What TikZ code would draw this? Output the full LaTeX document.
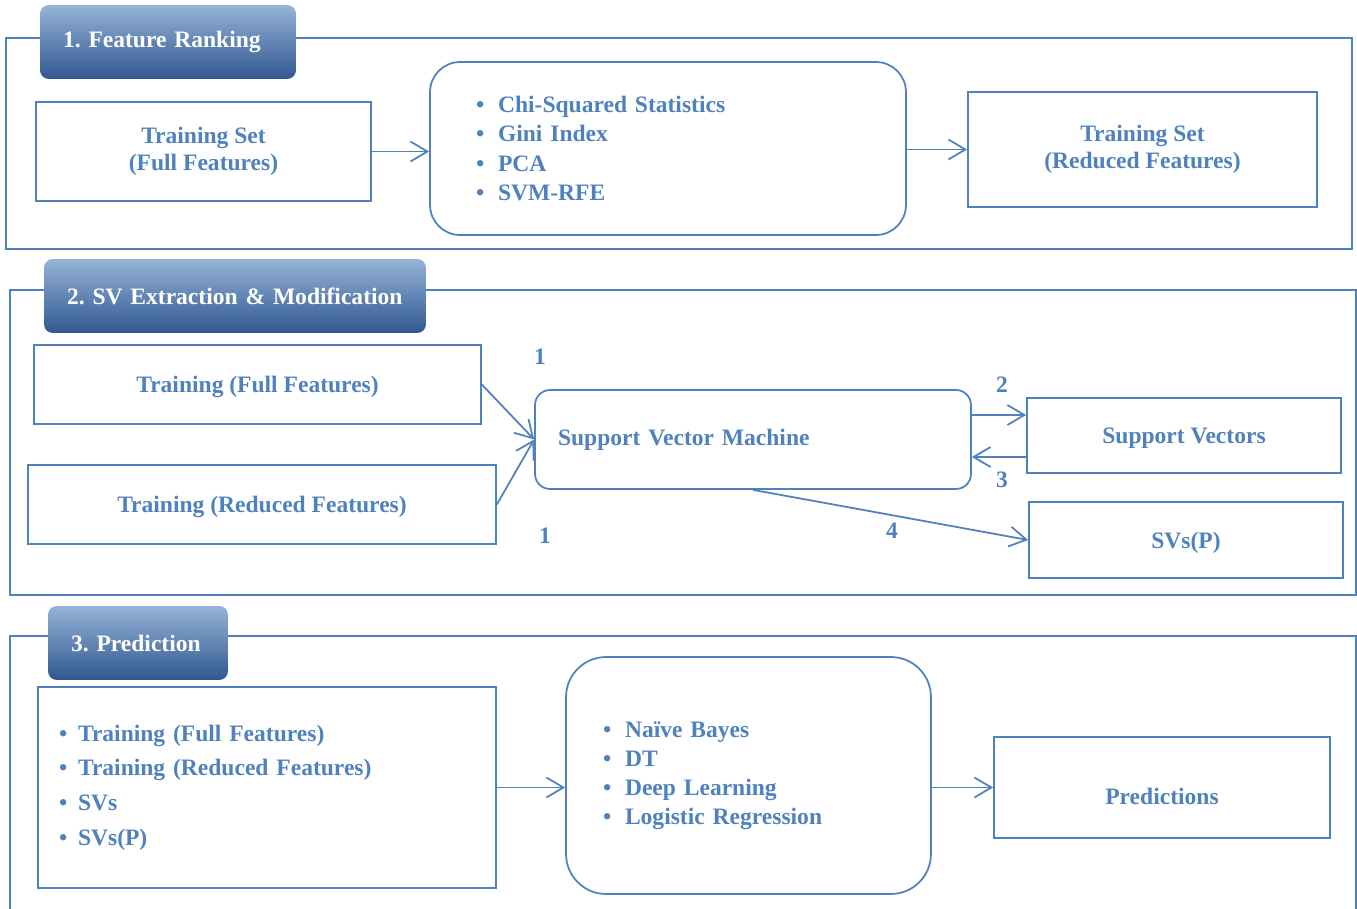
\documentclass[tikz,border=0pt]{standalone}
\usepackage{fontspec}
\setmainfont{Liberation Serif}
\frenchspacing
\usepackage{tikz}
\usetikzlibrary{arrows.meta,positioning,calc}
\definecolor{flowblue}{HTML}{4F81BD}
\definecolor{tabtop}{HTML}{95B3D7}
\definecolor{tabmid}{HTML}{4F81BD}
\definecolor{tabbot}{HTML}{30578F}
\newcommand{\itm}[2][0.44cm]{\makebox[#1][l]{\textbullet}#2}
\tikzset{
  stagebox/.style={draw=flowblue, line width=1pt},
  tabnode/.style={rounded corners=5pt, top color=tabtop, middle color=tabmid, bottom color=tabbot, draw=none, text=white, align=left, inner xsep=0.46cm, minimum height=1.48cm, font=\fontsize{13.4}{15}\selectfont\bfseries},
  databox/.style={draw=flowblue, line width=1pt, align=center, text=flowblue, font=\fontsize{13.4}{15.5}\selectfont\bfseries},
  methodbox/.style={draw=flowblue, line width=1pt, rounded corners=0.6cm, align=left, text=flowblue, font=\fontsize{13.4}{16.6}\selectfont\bfseries},
  numlabel/.style={text=flowblue, font=\fontsize{13.4}{15}\selectfont\bfseries},
  flowarrow/.style={-{Straight Barb[length=3.4mm, width=4mm]}, line width=1pt, draw=flowblue}
}
\begin{document}
\begin{tikzpicture}[x=0.02cm, y=-0.02cm]
  \useasboundingbox (0,0) rectangle (1357,909);
  % stage frames
  \draw[stagebox] (6,38) rectangle (1352,249);
  \draw[stagebox] (10,290) rectangle (1356,595);
  \draw[stagebox] (10,915) |- (1356,636) -- (1356,915);
  % stage tabs
  \node[tabnode, text width=4.20cm] (tabrank) at (168,42) {1. Feature Ranking};
  \node[tabnode, text width=6.72cm] (tabsv) at (235,296) {2. SV Extraction \& Modification};
  \node[tabnode, text width=2.68cm] (tabpred) at (138,643) {3. Prediction};

  % 1. feature ranking
  \node[databox, minimum width=6.70cm, minimum height=1.98cm] (setfull) at (203.5,151.5) {Training Set\\(Full Features)};
  \node[methodbox, text width=7.68cm, inner xsep=0.92cm, minimum height=3.46cm] (rankers) at (668,148.5)
    {\itm{Chi-Squared Statistics}\\\itm{Gini Index}\\\itm{PCA}\\\itm{SVM-RFE}};
  \node[databox, minimum width=6.98cm, minimum height=2.30cm] (setreduced) at (1142.5,149.5) {Training Set\\(Reduced Features)};
  \draw[flowarrow] (setfull.east) -- (setfull.east -| rankers.west);
  \draw[flowarrow] (rankers.east |- setreduced.west) -- (setreduced.west);

  % 2. SV extraction & modification
  \node[databox, minimum width=8.94cm, minimum height=1.58cm, text depth=0pt] (trainfull) at (257.5,384.5) {Training (Full Features)};
  \node[databox, minimum width=9.36cm, minimum height=1.58cm, text depth=0pt] (trainreduced) at (262,504.5) {Training (Reduced Features)};
  \node[methodbox, rounded corners=0.3cm, text width=7.80cm, inner xsep=0.46cm, minimum height=1.98cm] (svm) at (753,439.5) {Support Vector Machine};
  \node[databox, minimum width=6.28cm, minimum height=1.50cm, text depth=0pt] (supvec) at (1184,435.5) {Support Vectors};
  \node[databox, minimum width=6.28cm, minimum height=1.52cm, text depth=0pt] (supvecp) at (1186,540) {SVs(P)};
  \draw[flowarrow] (trainfull.east) -- (svm.west);
  \draw[flowarrow] (trainreduced.east) -- (svm.west);
  \draw[flowarrow] ([yshift=0.49cm]svm.east) -- ([yshift=0.41cm]supvec.west);
  \draw[flowarrow] ([yshift=-0.43cm]supvec.west) -- ([yshift=-0.35cm]svm.east);
  \draw[flowarrow] (svm.south) -- (supvecp.west);
  \node[numlabel] (stepa) at (540,357) {1};
  \node[numlabel] (stepb) at (545,536) {1};
  \node[numlabel] (stepc) at (1002,385) {2};
  \node[numlabel] (stepd) at (1002,480) {3};
  \node[numlabel] (stepe) at (892,531) {4};

  % 3. prediction
  \node[methodbox, rounded corners=0pt, text width=8.32cm, inner xsep=0.42cm, minimum height=4.02cm, font=\fontsize{13.4}{19.7}\selectfont\bfseries] (inputs) at (267,787.5)
    {\itm[0.38cm]{Training (Full Features)}\\\itm[0.38cm]{Training (Reduced Features)}\\\itm[0.38cm]{SVs}\\\itm[0.38cm]{SVs(P)}};
  \node[methodbox, rounded corners=0.8cm, text width=5.82cm, inner xsep=0.74cm, minimum height=4.74cm] (classifiers) at (748.5,775.5)
    {\itm{Naïve Bayes}\\\itm{DT}\\\itm{Deep Learning}\\\itm{Logistic Regression}};
  \node[databox, minimum width=6.72cm, minimum height=2.02cm, text height=0.68cm, text depth=0pt] (preds) at (1162,787.5) {Predictions};
  \draw[flowarrow] (inputs.east) -- (inputs.east -| classifiers.west);
  \draw[flowarrow] (classifiers.east |- preds.west) -- (preds.west);
\end{tikzpicture}
\end{document}
